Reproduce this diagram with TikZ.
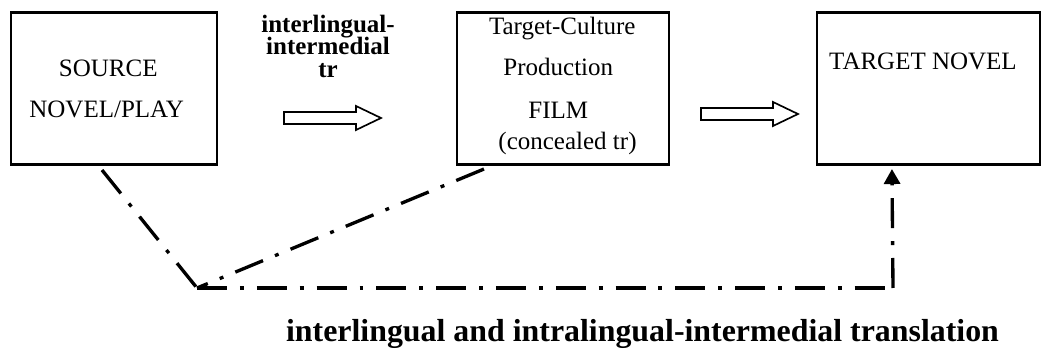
\documentclass[tikz,border=0pt]{standalone}
\usepackage{fontspec}
\setmainfont{Liberation Serif}
\usetikzlibrary{arrows.meta,calc}
\begin{document}
\begin{tikzpicture}[x=0.48pt,y=-0.48pt,
  panel/.style={draw, line width=1pt, inner sep=0pt, minimum width=#1, minimum height=72.96pt},
  txt/.style={inner sep=0pt, anchor=base, font=\fontsize{12}{14}\selectfont},
  lbl/.style={inner sep=0pt, anchor=base, font=\fontsize{12}{14}\selectfont\bfseries},
  chain/.style={line width=1.6pt, dash pattern=on 14.4pt off 6.2pt on 1.9pt off 6.2pt},
  hollow arrow/.pic={\draw[line width=0.8pt, line join=miter]
    (0,-6) -- (72,-6) -- (72,-12) -- (97,0) -- (72,12) -- (72,6) -- (0,6) -- cycle;}
]
\useasboundingbox (0,0) rectangle (1042,349);

% the three stages
\node[panel=98.88pt]  (src)  at (114,88.5)   {};
\node[panel=101.76pt] (film) at (563,88.5)   {};
\node[panel=107.04pt] (tgt)  at (928.5,88.5) {};

\node[txt] (srcA)  at (108.3,77)  {SOURCE};
\node[txt] (srcB)  at (106.7,118) {NOVEL/PLAY};
\node[txt] (filmA) at (562.2,35)  {Target-Culture};
\node[txt] (filmB) at (558.3,76)  {Production};
\node[txt] (filmC) at (558.3,119) {FILM};
\node[txt] (filmD) at (567.5,150) {(concealed tr)};
\node[txt] (tgtA)  at (923,70)    {TARGET NOVEL};

% label over the first step
\node[lbl] (stepA) at (328,33) {interlingual-};
\node[lbl] (stepB) at (328,55) {intermedial};
\node[lbl] (stepC) at (328,78) {tr};

% hollow block arrows between the boxes
\pic (fwdA) at (284,118) {hollow arrow};
\pic (fwdB) at (701,114) {hollow arrow};

% dash-dot route underneath
\coordinate (meet) at (197,288);
\coordinate (turn) at (893,288);
\draw[chain] ($(src.south)+(-12,4.5)$) -- (meet);
\draw[chain] ($(film.south west)+(28,3.5)$) -- (meet);
\draw[chain] (meet) -- (turn);
\draw[chain, -{Triangle[width=7.7pt,length=7.2pt]}] (turn) -- ($(tgt.south west)+(76,3.5)$);

\node[inner sep=0pt, anchor=base, font=\fontsize{15.3}{18}\selectfont\bfseries] (caption)
  at (642.5,342) {interlingual and intralingual-intermedial translation};
\end{tikzpicture}
\end{document}
